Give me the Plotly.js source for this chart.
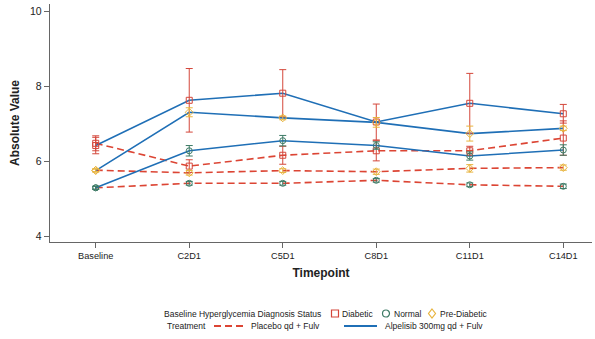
<!DOCTYPE html>
<html>
<head>
<meta charset="utf-8">
<script src="https://cdn.plot.ly/plotly-3.0.1.min.js"></script>
<style>html,body{margin:0;padding:0;background:#fff;}#chart{width:595px;height:339px;}</style>
</head>
<body>
<div id="chart"></div>
<script>
// Categories
const timepoints = ["Baseline", "C2D1", "C5D1", "C8D1", "C11D1", "C14D1"];
const statuses = ["Diabetic", "Normal", "Pre-Diabetic"];
const treatments = ["Placebo qd + Fulv", "Alpelisib 300mg qd + Fulv"];
const statusTitle = "Baseline Hyperglycemia Diagnosis Status";
const treatTitle = "Treatment";

// Means and error half-widths
const placeboDiabetic    = [6.48, 5.87, 6.16, 6.28, 6.28, 6.62];
const placeboDiabeticErr = [0.20, 0.17, 0.24, 0.27, 0.12, 0.46];
const placeboNormal      = [5.29, 5.41, 5.41, 5.49, 5.37, 5.33];
const placeboNormalErr   = [0.04, 0.05, 0.05, 0.05, 0.05, 0.06];
const placeboPre         = [5.76, 5.69, 5.75, 5.72, 5.81, 5.83];
const placeboPreErr      = [0.04, 0.06, 0.05, 0.07, 0.10, 0.07];

const alpDiabetic    = [6.42, 7.63, 7.82, 7.05, 7.55, 7.27];
const alpDiabeticErr = [0.22, 0.85, 0.63, 0.48, 0.80, 0.25];
const alpNormal      = [5.29, 6.28, 6.55, 6.42, 6.14, 6.30];
const alpNormalErr   = [0.04, 0.14, 0.14, 0.10, 0.11, 0.14];
const alpPre         = [5.75, 7.31, 7.16, 7.04, 6.74, 6.88];
const alpPreErr      = [0.04, 0.12, 0.05, 0.13, 0.20, 0.06];

const statusColor = {"Diabetic": "#d4473b", "Normal": "#3e7b66", "Pre-Diabetic": "#e8b43e"};
const statusSymbol = {"Diabetic": "square-open", "Normal": "circle-open", "Pre-Diabetic": "diamond-open"};
const treatColor = ["#dc4534", "#1f6fb6"];
const treatDash = ["7px,4px", "solid"];

const groups = [
  {t: 0, s: "Diabetic", y: placeboDiabetic, e: placeboDiabeticErr},
  {t: 0, s: "Normal", y: placeboNormal, e: placeboNormalErr},
  {t: 0, s: "Pre-Diabetic", y: placeboPre, e: placeboPreErr},
  {t: 1, s: "Diabetic", y: alpDiabetic, e: alpDiabeticErr},
  {t: 1, s: "Normal", y: alpNormal, e: alpNormalErr},
  {t: 1, s: "Pre-Diabetic", y: alpPre, e: alpPreErr}
];

const traces = [];
groups.forEach(g => {
  traces.push({
    x: timepoints, y: g.y, type: "scatter", mode: "lines",
    line: {color: treatColor[g.t], width: 1.6, dash: treatDash[g.t]},
    name: treatments[g.t], showlegend: false, hoverinfo: "skip"
  });
});
groups.forEach(g => {
  traces.push({
    x: timepoints, y: g.y, type: "scatter", mode: "markers",
    marker: {symbol: statusSymbol[g.s], size: 6, color: statusColor[g.s], line: {width: 1, color: statusColor[g.s]}},
    error_y: {type: "data", array: g.e, visible: true, color: statusColor[g.s], thickness: 1, width: 3.5},
    name: g.s, showlegend: false, hoverinfo: "skip"
  });
});

// Custom legend (two rows) in paper coordinates
const M = {l: 50, r: 3, t: 4, b: 97};
const PW = 595 - M.l - M.r, PH = 339 - M.t - M.b;
const px = v => (v - M.l) / PW;
const py = v => (339 - M.b - v) / PH;
const fontFam = "Liberation Sans, Arial, sans-serif";
const legFont = {family: fontFam, size: 8.5, color: "#222"};

const annotations = [];
const shapes = [];
const row1 = 313.5, row2 = 326;
annotations.push({xref: "paper", yref: "paper", x: px(162), y: py(row1), xanchor: "left", yanchor: "middle",
  text: statusTitle, showarrow: false, font: legFont});
const symX = [335, 386, 432];
const txtX = [340, 391.5, 437.5];
statuses.forEach((s, i) => {
  const c = statusColor[s];
  if (s === "Diabetic") {
    shapes.push({type: "rect", xref: "paper", yref: "paper", xsizemode: "pixel", ysizemode: "pixel",
      xanchor: px(symX[i]), yanchor: py(row1), x0: -3.5, x1: 3.5, y0: -3.5, y1: 3.5, line: {color: c, width: 1.2}});
  } else if (s === "Normal") {
    shapes.push({type: "circle", xref: "paper", yref: "paper", xsizemode: "pixel", ysizemode: "pixel",
      xanchor: px(symX[i]), yanchor: py(row1), x0: -3.5, x1: 3.5, y0: -3.5, y1: 3.5, line: {color: c, width: 1.2}});
  } else {
    shapes.push({type: "path", xref: "paper", yref: "paper", xsizemode: "pixel", ysizemode: "pixel",
      xanchor: px(symX[i]), yanchor: py(row1), path: "M0,4.5 L3.5,0 L0,-4.5 L-3.5,0 Z", line: {color: c, width: 1.2}});
  }
  annotations.push({xref: "paper", yref: "paper", x: px(txtX[i]), y: py(row1), xanchor: "left", yanchor: "middle",
    text: s, showarrow: false, font: legFont});
});
annotations.push({xref: "paper", yref: "paper", x: px(164.5), y: py(row2), xanchor: "left", yanchor: "middle",
  text: treatTitle, showarrow: false, font: legFont});
const lineX = [[214, 246], [344, 377]];
const ltxtX = [248.5, 382.5];
treatments.forEach((t, i) => {
  shapes.push({type: "line", xref: "paper", yref: "paper", x0: px(lineX[i][0]), x1: px(lineX[i][1]),
    y0: py(row2), y1: py(row2), line: {color: treatColor[i], width: 2, dash: i === 0 ? "7px,4px" : "solid"}});
  annotations.push({xref: "paper", yref: "paper", x: px(ltxtX[i]), y: py(row2), xanchor: "left", yanchor: "middle",
    text: t, showarrow: false, font: legFont});
});

const layout = {
  width: 595, height: 339,
  margin: M,
  paper_bgcolor: "#fff", plot_bgcolor: "#fff",
  font: {family: fontFam, size: 9.5, color: "#222"},
  showlegend: false,
  xaxis: {
    type: "category", range: [-0.489, 5.307],
    showline: true, linecolor: "#666", linewidth: 1.2,
    ticks: "outside", ticklen: 5, tickcolor: "#666",
    showgrid: false, zeroline: false,
    tickfont: {size: 9.2, color: "#222"},
    title: {text: "<b>Timepoint</b>", font: {size: 12, color: "#222"}, standoff: 8}
  },
  yaxis: {
    range: [3.84, 10.206], tickvals: [4, 6, 8, 10],
    showline: true, linecolor: "#666", linewidth: 1.2,
    ticks: "outside", ticklen: 5, tickcolor: "#666",
    showgrid: false, zeroline: false,
    tickfont: {size: 10.5, color: "#222"},
    title: {text: "<b>Absolute Value</b>", font: {size: 12, color: "#222"}, standoff: 7}
  },
  annotations: annotations,
  shapes: shapes
};

Plotly.newPlot("chart", traces, layout, {staticPlot: true, displayModeBar: false});
</script>
</body>
</html>
